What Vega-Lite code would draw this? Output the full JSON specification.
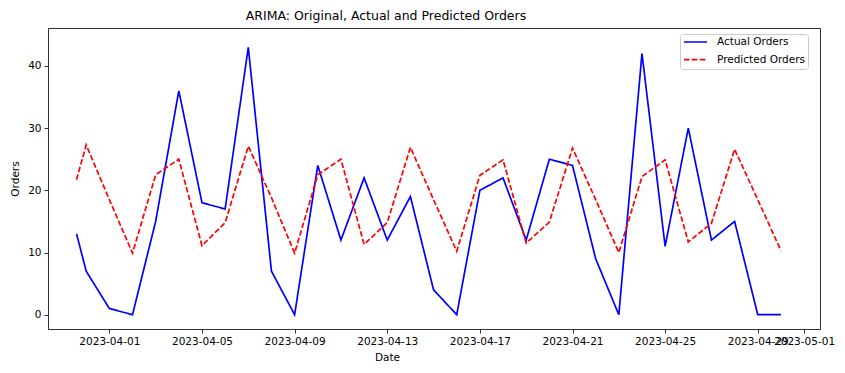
{
  "$schema": "https://vega.github.io/schema/vega-lite/v6.json",
  "width": 772,
  "height": 301,
  "autosize": {"type": "none"},
  "padding": {"left": 48, "top": 28, "right": 25, "bottom": 44},
  "background": "white",
  "config": {
    "font": "DejaVu Sans",
    "view": {"stroke": "#333333", "strokeWidth": 1}
  },
  "title": {
    "text": "ARIMA: Original, Actual and Predicted Orders",
    "fontSize": 12.5,
    "fontWeight": "normal",
    "color": "black",
    "anchor": "middle",
    "dx": -48,
    "offset": 6
  },
  "data": {
    "values": [
      {"date": "2023-03-30T14:00:00Z", "Actual Orders": 13, "Predicted Orders": 21.7},
      {"date": "2023-03-31T00:00:00Z", "Actual Orders": 7, "Predicted Orders": 27.3},
      {"date": "2023-04-01T00:00:00Z", "Actual Orders": 1, "Predicted Orders": 18.5},
      {"date": "2023-04-02T00:00:00Z", "Actual Orders": 0, "Predicted Orders": 9.9},
      {"date": "2023-04-03T00:00:00Z", "Actual Orders": 15, "Predicted Orders": 22.5},
      {"date": "2023-04-04T00:00:00Z", "Actual Orders": 36, "Predicted Orders": 25.0},
      {"date": "2023-04-05T00:00:00Z", "Actual Orders": 18, "Predicted Orders": 11.1},
      {"date": "2023-04-06T00:00:00Z", "Actual Orders": 17, "Predicted Orders": 14.8},
      {"date": "2023-04-07T00:00:00Z", "Actual Orders": 43, "Predicted Orders": 27.1},
      {"date": "2023-04-08T00:00:00Z", "Actual Orders": 7, "Predicted Orders": 18.8},
      {"date": "2023-04-09T00:00:00Z", "Actual Orders": 0, "Predicted Orders": 9.9},
      {"date": "2023-04-10T00:00:00Z", "Actual Orders": 24, "Predicted Orders": 22.5},
      {"date": "2023-04-11T00:00:00Z", "Actual Orders": 12, "Predicted Orders": 25.0},
      {"date": "2023-04-12T00:00:00Z", "Actual Orders": 22, "Predicted Orders": 11.3},
      {"date": "2023-04-13T00:00:00Z", "Actual Orders": 12, "Predicted Orders": 14.8},
      {"date": "2023-04-14T00:00:00Z", "Actual Orders": 19, "Predicted Orders": 26.9},
      {"date": "2023-04-15T00:00:00Z", "Actual Orders": 4, "Predicted Orders": 18.5},
      {"date": "2023-04-16T00:00:00Z", "Actual Orders": 0, "Predicted Orders": 10.2},
      {"date": "2023-04-17T00:00:00Z", "Actual Orders": 20, "Predicted Orders": 22.4},
      {"date": "2023-04-18T00:00:00Z", "Actual Orders": 22, "Predicted Orders": 24.9},
      {"date": "2023-04-19T00:00:00Z", "Actual Orders": 12, "Predicted Orders": 11.5},
      {"date": "2023-04-20T00:00:00Z", "Actual Orders": 25, "Predicted Orders": 14.9},
      {"date": "2023-04-21T00:00:00Z", "Actual Orders": 24, "Predicted Orders": 26.8},
      {"date": "2023-04-22T00:00:00Z", "Actual Orders": 9, "Predicted Orders": 18.5},
      {"date": "2023-04-23T00:00:00Z", "Actual Orders": 0, "Predicted Orders": 10.0},
      {"date": "2023-04-24T00:00:00Z", "Actual Orders": 42, "Predicted Orders": 22.2},
      {"date": "2023-04-25T00:00:00Z", "Actual Orders": 11, "Predicted Orders": 24.9},
      {"date": "2023-04-26T00:00:00Z", "Actual Orders": 30, "Predicted Orders": 11.7},
      {"date": "2023-04-27T00:00:00Z", "Actual Orders": 12, "Predicted Orders": 14.7},
      {"date": "2023-04-28T00:00:00Z", "Actual Orders": 15, "Predicted Orders": 26.6},
      {"date": "2023-04-29T00:00:00Z", "Actual Orders": 0, "Predicted Orders": 18.5},
      {"date": "2023-04-30T00:00:00Z", "Actual Orders": 0, "Predicted Orders": 10.3}
    ]
  },
  "transform": [
    {"fold": ["Actual Orders", "Predicted Orders"], "as": ["series", "orders"]}
  ],
  "mark": {"type": "line", "strokeWidth": 1.7},
  "encoding": {
    "x": {
      "field": "date",
      "type": "temporal",
      "scale": {
        "type": "utc",
        "domain": [
          {"year": 2023, "month": 3, "date": 29, "hours": 8, "minutes": 25, "utc": true},
          {"year": 2023, "month": 5, "date": 1, "hours": 16, "minutes": 30, "utc": true}
        ]
      },
      "axis": {
        "title": "Date",
        "titleX": 339,
        "titleAlign": "center",
        "values": [
          {"year": 2023, "month": 4, "date": 1, "utc": true},
          {"year": 2023, "month": 4, "date": 5, "utc": true},
          {"year": 2023, "month": 4, "date": 9, "utc": true},
          {"year": 2023, "month": 4, "date": 13, "utc": true},
          {"year": 2023, "month": 4, "date": 17, "utc": true},
          {"year": 2023, "month": 4, "date": 21, "utc": true},
          {"year": 2023, "month": 4, "date": 25, "utc": true},
          {"year": 2023, "month": 4, "date": 29, "utc": true},
          {"year": 2023, "month": 5, "date": 1, "utc": true}
        ],
        "format": "%Y-%m-%d",
        "grid": false,
        "domainColor": "#333333",
        "tickColor": "#333333",
        "tickSize": 4,
        "labelPadding": 3,
        "labelFontSize": 10.5,
        "labelColor": "black",
        "labelOverlap": false,
        "labelBound": false,
        "labelFlush": false,
        "titleFontSize": 10.5,
        "titleFontWeight": "normal",
        "titleColor": "black",
        "titlePadding": 6
      }
    },
    "y": {
      "field": "orders",
      "type": "quantitative",
      "scale": {"domain": [-2.3, 46.1], "nice": false, "zero": false},
      "axis": {
        "title": "Orders",
        "values": [0, 10, 20, 30, 40],
        "grid": false,
        "domainColor": "#333333",
        "tickColor": "#333333",
        "tickSize": 4,
        "labelPadding": 3,
        "labelFontSize": 10.5,
        "labelColor": "black",
        "titleFontSize": 10.5,
        "titleFontWeight": "normal",
        "titleColor": "black",
        "titlePadding": 7
      }
    },
    "color": {
      "field": "series",
      "type": "nominal",
      "scale": {"domain": ["Actual Orders", "Predicted Orders"], "range": ["#0000ff", "#ff0000"]},
      "legend": {
        "title": null,
        "orient": "none",
        "legendX": 632,
        "legendY": 6,
        "padding": 3,
        "strokeColor": "#cccccc",
        "fillColor": "white",
        "cornerRadius": 3,
        "symbolType": "stroke",
        "symbolSize": 529,
        "symbolStrokeWidth": 1.7,
        "clipHeight": 10,
        "rowPadding": 6.7,
        "labelOffset": 9,
        "labelFontSize": 10.5,
        "labelColor": "black"
      }
    },
    "strokeDash": {
      "field": "series",
      "type": "nominal",
      "scale": {"domain": ["Actual Orders", "Predicted Orders"], "range": [[1, 0], [5.5, 2.4]]},
      "legend": {
        "title": null,
        "orient": "none",
        "legendX": 632,
        "legendY": 6,
        "padding": 3,
        "strokeColor": "#cccccc",
        "fillColor": "white",
        "cornerRadius": 3,
        "symbolType": "stroke",
        "symbolSize": 529,
        "symbolStrokeWidth": 1.7,
        "clipHeight": 10,
        "rowPadding": 6.7,
        "labelOffset": 9,
        "labelFontSize": 10.5,
        "labelColor": "black"
      }
    }
  }
}
